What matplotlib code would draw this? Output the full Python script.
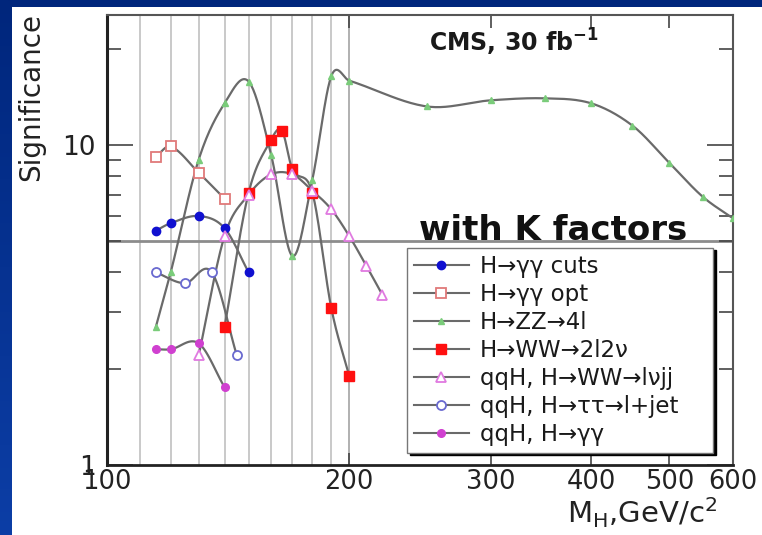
import numpy as np
import matplotlib
matplotlib.use("Agg")
import matplotlib.pyplot as plt
from matplotlib.patches import Rectangle
from matplotlib.lines import Line2D
from matplotlib.ticker import FixedLocator, NullFormatter, NullLocator

plt.rcParams["font.family"] = ["DejaVu Sans"]

# Higgs mass points (GeV/c^2) and discovery significance for 30 fb^-1
mass_gg_cuts = [115, 120, 130, 140, 150]
sig_gg_cuts = [5.4, 5.7, 6.0, 5.5, 4.0]

mass_gg_opt = [115, 120, 130, 140]
sig_gg_opt = [9.2, 9.9, 8.2, 6.8]

mass_zz = [115, 120, 130, 140, 150, 160, 170, 180, 190, 200,
           250, 300, 350, 400, 450, 500, 550, 600]
sig_zz = [2.7, 4.0, 9.0, 13.5, 15.8, 9.3, 4.5, 7.8, 16.4, 15.9,
          13.2, 13.8, 14.0, 13.5, 11.5, 8.8, 6.9, 5.9]

mass_ww = [140, 150, 160, 165, 170, 180, 190, 200]
sig_ww = [2.7, 7.1, 10.4, 11.1, 8.4, 7.1, 3.1, 1.9]

mass_qqh_ww = [130, 140, 150, 160, 170, 180, 190, 200, 210, 220]
sig_qqh_ww = [2.2, 5.2, 7.0, 8.1, 8.1, 7.2, 6.3, 5.2, 4.2, 3.4]

mass_qqh_tt = [115, 125, 135, 145]
sig_qqh_tt = [4.0, 3.7, 4.0, 2.2]

mass_qqh_gg = [115, 120, 130, 140]
sig_qqh_gg = [2.3, 2.3, 2.4, 1.75]

labels = ["H→γγ cuts", "H→γγ opt", "H→ZZ→4l", "H→WW→2l2ν",
          "qqH, H→WW→lνjj", "qqH, H→ττ→l+jet", "qqH, H→γγ"]

x_tick_values = [100, 200, 300, 400, 500, 600]
grid_masses = [110, 120, 130, 140, 150, 160, 170, 180, 190, 200]
discovery_level = 5


def smooth_curve(xs, ys, n=24):
    """Cubic Hermite curve through the points, built in log-log space."""
    lx = np.log10(np.asarray(xs, float))
    ly = np.log10(np.asarray(ys, float))
    if len(lx) < 3:
        return xs, ys
    m = np.empty_like(lx)
    m[1:-1] = (ly[2:] - ly[:-2]) / (lx[2:] - lx[:-2])
    m[0] = (ly[1] - ly[0]) / (lx[1] - lx[0])
    m[-1] = (ly[-1] - ly[-2]) / (lx[-1] - lx[-2])
    px, py = [], []
    for i in range(len(lx) - 1):
        h = lx[i + 1] - lx[i]
        t = np.linspace(0, 1, n, endpoint=(i == len(lx) - 2))
        h00 = 2 * t**3 - 3 * t**2 + 1
        h10 = t**3 - 2 * t**2 + t
        h01 = -2 * t**3 + 3 * t**2
        h11 = t**3 - t**2
        px.append(lx[i] + t * h)
        py.append(h00 * ly[i] + h10 * h * m[i] + h01 * ly[i + 1] + h11 * h * m[i + 1])
    return 10 ** np.concatenate(px), 10 ** np.concatenate(py)


W, H = 762, 535
fig = plt.figure(figsize=(W / 100, H / 100), dpi=100)

# slide background: blue frame with a white panel
bg = fig.add_axes([0, 0, 1, 1], zorder=-5)
grad = np.linspace(0, 1, 256)[:, None]
top_c = np.array([0x00, 0x26, 0x7C]) / 255
bot_c = np.array([0x0C, 0x3E, 0xA6]) / 255
img = top_c[None, None, :] * (1 - grad[..., None]) + bot_c[None, None, :] * grad[..., None]
bg.imshow(img, aspect="auto", extent=[0, 1, 0, 1], origin="upper")
bg.add_patch(Rectangle((12 / W, 0), 1, (H - 7) / H, facecolor="white", edgecolor="none"))
bg.set_xlim(0, 1)
bg.set_ylim(0, 1)
bg.axis("off")

ax = fig.add_axes([107 / W, 70 / H, 626 / W, 450 / H])
ax.set_xscale("log")
ax.set_yscale("log")
ax.set_xlim(100, 600)
ax.set_ylim(1, 25.5)
ax.set_facecolor("white")

for m in grid_masses:
    ax.axvline(m, color="#c9c9c9" if m != 200 else "#b0b0b0", lw=1.4, zorder=0)
ax.axhline(discovery_level, color="#8c8c8c", lw=2.0, zorder=1)

line_kw = dict(color="#6a6a6a", lw=1.6, zorder=2)
series = [
    (mass_gg_cuts, sig_gg_cuts, dict(marker="o", ms=6, mfc="#1010d0", mec="#1010d0")),
    (mass_gg_opt, sig_gg_opt, dict(marker="s", ms=6.5, mfc="white", mec="#e07a7a", mew=1.3)),
    (mass_zz, sig_zz, dict(marker="^", ms=5, mfc="#7acc7a", mec="#7acc7a")),
    (mass_ww, sig_ww, dict(marker="s", ms=7, mfc="#ff1010", mec="#ff1010")),
    (mass_qqh_ww, sig_qqh_ww, dict(marker="^", ms=7, mfc="white", mec="#e07ae0", mew=1.3)),
    (mass_qqh_tt, sig_qqh_tt, dict(marker="o", ms=6.5, mfc="white", mec="#6a6ad0", mew=1.3)),
    (mass_qqh_gg, sig_qqh_gg, dict(marker="o", ms=5.5, mfc="#d040d0", mec="#d040d0")),
]

handles = []
for xs, ys, mk in series:
    cx, cy = smooth_curve(xs, ys)
    ax.plot(cx, cy, **line_kw)
    ax.plot(xs, ys, ls="none", zorder=3, **mk)
    handles.append(Line2D([], [], color="#6a6a6a", lw=1.5, **mk))

for s in ax.spines.values():
    s.set_color("#555555")
    s.set_linewidth(1.5)
ax.spines["left"].set_color("#222222")
ax.spines["left"].set_linewidth(2.2)
ax.spines["bottom"].set_color("#222222")
ax.spines["bottom"].set_linewidth(2.0)

ax.xaxis.set_major_locator(FixedLocator(x_tick_values))
ax.set_xticklabels([str(v) for v in x_tick_values])
ax.xaxis.set_minor_locator(NullLocator())
ax.tick_params(axis="x", which="major", direction="in", top=True, bottom=True,
               length=9, width=1.2, color="#444444", labelsize=18.5, pad=3,
               labelcolor="#222222")

ax.yaxis.set_major_locator(FixedLocator([1, 10]))
ax.set_yticklabels(["1", "10"])
ax.yaxis.set_minor_locator(FixedLocator([2, 3, 4, 5, 6, 7, 8, 9, 20]))
ax.yaxis.set_minor_formatter(NullFormatter())
ax.tick_params(axis="y", which="major", direction="in", left=True, right=True,
               length=19, width=1.2, color="#444444", labelsize=19, pad=8,
               labelcolor="#222222")
ax.tick_params(axis="y", which="minor", direction="in", left=True, right=True,
               length=10, width=1.2, color="#444444")

leg = ax.legend(handles, labels, loc="upper left",
                bbox_to_anchor=(0.479, 0.03, 0.489, 0.453), mode="expand",
                borderaxespad=0, fontsize=16.5, frameon=True, fancybox=False,
                shadow={"color": "black", "alpha": 1.0}, handlelength=2.4,
                handletextpad=0.5, labelspacing=0.22, borderpad=0.3,
                edgecolor="#777777", framealpha=1)
leg.get_frame().set_linewidth(1.0)
for t in leg.get_texts():
    t.set_color("#1a1a1a")

fig.text(514 / W, 1 - 42 / H, r"CMS, 30 fb$^{\mathbf{-1}}$", ha="center", va="center",
         fontsize=17, fontweight="bold", color="#1a1a1a")
fig.text(553 / W, 1 - 240 / H, "with K factors", ha="center", va="baseline",
         fontsize=24.5, fontweight="bold", color="#111111")
fig.text(31 / W, 1 - 97 / H, "Significance", rotation=90, ha="center", va="center",
         fontsize=20, color="#222222")
fig.text(642 / W, 1 - 523 / H, r"M$_{\rm H}$,GeV/c$^{\rm 2}$", ha="center", va="baseline",
         fontsize=21, color="#222222")

fig.savefig("out.png", dpi=100)
